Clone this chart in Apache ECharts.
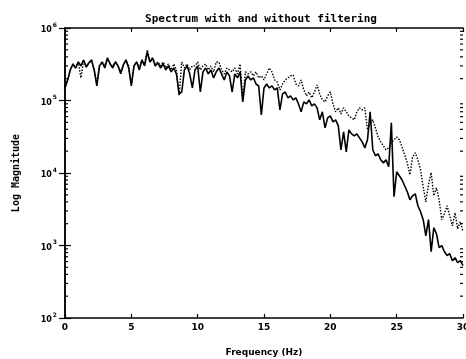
<!DOCTYPE html>
<html>
<head>
<meta charset="utf-8">
<script src="https://cdn.jsdelivr.net/npm/echarts@6/dist/echarts.min.js"></script>
<style>html,body{margin:0;padding:0;background:#fff;overflow:hidden;}#c{width:466px;height:359px;}</style>
</head>
<body>
<div id="c"></div>
<script>
var freqs = [0,0.2,0.4,0.6,0.8,1,1.2,1.4,1.6,1.8,2,2.2,2.4,2.6,2.8,3,3.2,3.4,3.6,3.8,4,4.2,4.4,4.6,4.8,5,5.2,5.4,5.6,5.8,6,6.2,6.4,6.6,6.8,7,7.2,7.4,7.6,7.8,8,8.2,8.4,8.6,8.8,9,9.2,9.4,9.6,9.8,10,10.2,10.4,10.6,10.8,11,11.2,11.4,11.6,11.8,12,12.2,12.4,12.6,12.8,13,13.2,13.4,13.6,13.8,14,14.2,14.4,14.6,14.8,15,15.2,15.4,15.6,15.8,16,16.2,16.4,16.6,16.8,17,17.2,17.4,17.6,17.8,18,18.2,18.4,18.6,18.8,19,19.2,19.4,19.6,19.8,20,20.2,20.4,20.6,20.8,21,21.2,21.4,21.6,21.8,22,22.2,22.4,22.6,22.8,23,23.2,23.4,23.6,23.8,24,24.2,24.4,24.6,24.8,25,25.2,25.4,25.6,25.8,26,26.2,26.4,26.6,26.8,27,27.2,27.4,27.6,27.8,28,28.2,28.4,28.6,28.8,29,29.2,29.4,29.6,29.8,30];

var filtered = [149000,192000,264000,319000,281000,340000,300000,362000,290000,330000,
362000,264000,159000,300000,340000,281000,386000,319000,281000,340000,
300000,233000,309000,362000,281000,159000,300000,340000,264000,362000,
300000,467000,340000,386000,300000,330000,281000,319000,264000,300000,
248000,281000,233000,123000,131000,264000,300000,233000,149000,264000,
300000,131000,248000,281000,233000,264000,205000,248000,281000,233000,
192000,248000,218000,131000,233000,205000,248000,95700,192000,218000,
192000,205000,169000,159000,63300,149000,169000,149000,159000,140000,
149000,74200,123000,131000,109000,116000,102000,109000,89800,69700,
95700,89800,102000,84300,89800,79100,54100,69700,41900,57600,
61400,50700,54100,44700,20900,36900,19600,39400,34700,32500,
34700,30500,26900,22200,28700,69700,20900,17300,18400,15200,
13800,15200,12200,49100,4700,10400,9150,8060,6660,5510,
4270,4850,5170,3530,2920,2270,1360,2270,821,1760,
1450,933,994,821,724,771,618,679,580,618,527];

var unfiltered = [149000,192000,264000,319000,281000,340000,205000,362000,290000,330000,
362000,264000,169000,300000,340000,300000,386000,319000,300000,340000,
300000,248000,309000,362000,300000,169000,300000,340000,281000,362000,
319000,498000,340000,386000,319000,340000,300000,340000,281000,319000,
264000,319000,264000,116000,340000,281000,319000,264000,300000,300000,
340000,264000,300000,319000,264000,300000,248000,340000,340000,264000,
233000,281000,264000,248000,281000,233000,319000,102000,248000,233000,
248000,218000,248000,205000,218000,192000,233000,281000,248000,192000,
180000,140000,169000,192000,205000,218000,225000,169000,159000,192000,
140000,116000,131000,109000,131000,164000,123000,102000,95700,116000,
131000,89800,69700,79100,65400,79100,69700,61400,57600,54100,
69700,79100,74200,79100,39400,47600,54100,41900,31500,26900,
23700,20900,22200,26100,28700,31500,28700,23000,17800,13800,
9450,16700,19000,15200,11100,6450,4010,6880,10100,4850,
6250,4270,2270,2740,3530,2570,1870,2830,1700,2130,1550];

var xTicks = [0, 5, 10, 15, 20, 25, 30];
var yDecades = [100, 1000, 10000, 100000, 1000000];
var minorMultipliers = [2, 3, 4, 5, 6, 7, 8, 9];

function pairs(vals) {
  return freqs.map(function (f, i) { return [f, vals[i]]; });
}

var minorTickValues = [];
for (var d = 0; d < yDecades.length - 1; d++) {
  minorMultipliers.forEach(function (m) { minorTickValues.push(yDecades[d] * m); });
}

var chart = echarts.init(document.getElementById('c'), null, {renderer: 'canvas'});
var axisColor = '#000';
var labelFont = 'DejaVu Sans';

chart.setOption({
  animation: false,
  backgroundColor: '#fff',
  title: {
    text: 'Spectrum with and without filtering',
    left: 256, top: 9, textAlign: 'center',
    textStyle: {fontFamily: 'DejaVu Sans Mono', fontSize: 11, fontWeight: 'bold', color: '#000'}
  },
  grid: {left: 65, right: 3, top: 28, bottom: 41, containLabel: false, outerBoundsMode: 'none'},
  xAxis: [{
    type: 'value', min: 0, max: 30, interval: 5,
    name: 'Frequency (Hz)', nameLocation: 'middle', nameGap: 30,
    nameTextStyle: {fontFamily: labelFont, fontSize: 9, fontWeight: 'bold', color: '#000'},
    axisLine: {show: true, lineStyle: {color: axisColor, width: 1.5}},
    axisTick: {show: true, inside: true, length: 4, lineStyle: {color: axisColor, width: 1.2}},
    axisLabel: {fontFamily: labelFont, fontSize: 9, fontWeight: 'bold', color: '#000', margin: 5,
      hideOverlap: false, showMaxLabel: true,
      formatter: function (v) { return xTicks.indexOf(v) >= 0 ? String(v) : ''; }},
    splitLine: {show: false}
  }, {
    type: 'value', min: 0, max: 30, interval: 5, position: 'top',
    axisLine: {show: true, lineStyle: {color: axisColor, width: 1.5}},
    axisTick: {show: true, inside: true, length: 4, lineStyle: {color: axisColor, width: 1.2}},
    axisLabel: {show: false}, splitLine: {show: false}
  }],
  yAxis: [{
    type: 'log', logBase: 10, min: 100, max: 1000000,
    name: 'Log Magnitude', nameLocation: 'middle', nameGap: 44, nameRotate: 90,
    nameTextStyle: {fontFamily: 'DejaVu Sans Mono', fontSize: 10, fontWeight: 'bold', color: '#000'},
    axisLine: {show: true, lineStyle: {color: axisColor, width: 1.5}},
    axisTick: {show: true, inside: true, length: 6, lineStyle: {color: axisColor, width: 1.2}},
    axisLabel: {margin: 8, color: '#000',
      formatter: function (v) {
        var e = Math.round(Math.log10(v));
        return '{b|10}{s|' + e + '}';
      },
      rich: {
        b: {fontFamily: labelFont, fontSize: 8, fontWeight: 'bold', color: '#000', verticalAlign: 'bottom'},
        s: {fontFamily: labelFont, fontSize: 6, fontWeight: 'bold', color: '#000', verticalAlign: 'top', padding: [0, 0, 6, 1]}
      }
    },
    splitLine: {show: false}
  }, {
    type: 'log', logBase: 10, min: 100, max: 1000000, position: 'right',
    axisLine: {show: true, lineStyle: {color: axisColor, width: 1.5}},
    axisTick: {show: true, inside: true, length: 6, lineStyle: {color: axisColor, width: 1.2}},
    axisLabel: {show: false}, splitLine: {show: false}
  }],
  series: [{
    name: 'unfiltered', type: 'line', data: pairs(unfiltered),
    xAxisIndex: 0, yAxisIndex: 0,
    showSymbol: false, symbol: 'none',
    lineStyle: {color: '#000', width: 1.4, type: [1.5, 1.5]},
    z: 2
  }, {
    name: 'filtered', type: 'line', data: pairs(filtered),
    xAxisIndex: 0, yAxisIndex: 0,
    showSymbol: false, symbol: 'none',
    lineStyle: {color: '#000', width: 1.6},
    z: 3
  }, {
    name: 'minorTicks', type: 'custom', xAxisIndex: 0, yAxisIndex: 0,
    data: minorTickValues.map(function (v) { return [0, v]; }),
    silent: true, clip: false, z: 4,
    renderItem: function (params, api) {
      var v = api.value(1);
      var l = api.coord([0, v]);
      var r = api.coord([30, v]);
      return {
        type: 'group',
        children: [
          {type: 'line', shape: {x1: l[0], y1: l[1], x2: l[0] + 3, y2: l[1]}, style: {stroke: '#000', lineWidth: 1.2}},
          {type: 'line', shape: {x1: r[0] - 3, y1: r[1], x2: r[0], y2: r[1]}, style: {stroke: '#000', lineWidth: 1.2}}
        ]
      };
    }
  }]
});
</script>
</body>
</html>
